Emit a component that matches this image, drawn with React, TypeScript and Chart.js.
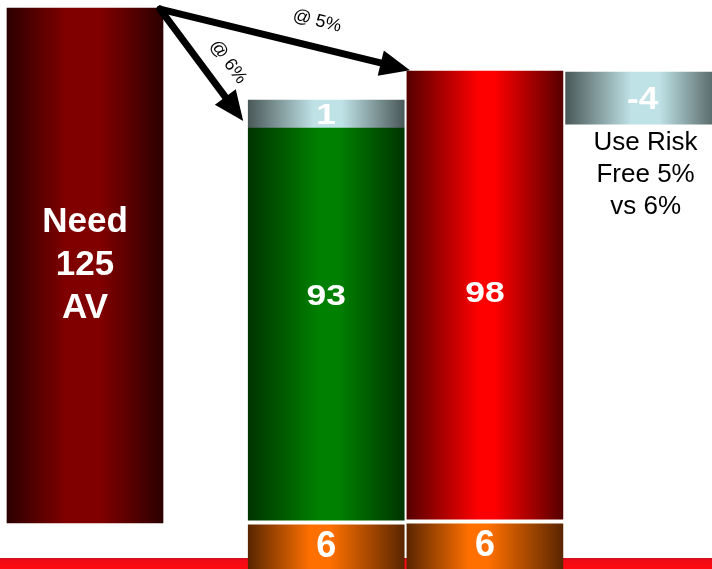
import React, { useEffect, useRef } from "react";
import { Chart, registerables } from "chart.js";

Chart.register(...registerables);

// ---- data (picture units on a 0..120 value axis) ----
const categories = ["Need AV", "@ 6%", "@ 5%", "Difference"];
const columnPos = [0, 1.52, 2.52, 3.52];
const needRange: [number, number] = [9.7, 118.3];
const greenRange: [number, number] = [10.3, 93.0];
const grayRange: [number, number] = [93.0, 98.9];
const redRange: [number, number] = [10.5, 105.0];
const orangeRanges: [number, number][] = [
  [0, 9.3],
  [0, 9.5],
];
const diffRange: [number, number] = [93.8, 104.8];

const needLabel = ["Need", "125", "AV"];
const greenValue = "93";
const grayValue = "1";
const redValue = "98";
const orangeValues = ["6", "6"];
const diffValue = "-4";
const noteLines = ["Use Risk", "Free 5%", "vs 6%"];
const arrowLabels = ["@ 6%", "@ 5%"];

// ---- style ----
const BAR_W = 156;
const FONT = '"Liberation Sans", Arial, sans-serif';

function grad(edge: string, mid: string, a = 0.44, b = 0.56) {
  return (c: any) => {
    const chart = c.chart;
    const xs = chart.scales && chart.scales.x;
    if (!xs || !c.raw || !chart.chartArea) return mid;
    const cx = xs.getPixelForValue(c.raw.x);
    const g = chart.ctx.createLinearGradient(cx - BAR_W / 2, 0, cx + BAR_W / 2, 0);
    g.addColorStop(0, edge);
    g.addColorStop(a, mid);
    g.addColorStop(b, mid);
    g.addColorStop(1, edge);
    return g;
  };
}

function drawText(ctx: CanvasRenderingContext2D, text: string, x: number, y: number, font: string, color: string, sx = 1) {
  ctx.save();
  ctx.translate(x, y);
  ctx.scale(sx, 1);
  ctx.font = font;
  ctx.fillStyle = color;
  ctx.textAlign = "center";
  ctx.textBaseline = "middle";
  ctx.fillText(text, 0, 0);
  ctx.restore();
}

function arrow(ctx: CanvasRenderingContext2D, x1: number, y1: number, x2: number, y2: number) {
  const ang = Math.atan2(y2 - y1, x2 - x1);
  const headLen = 30;
  const headHalf = 13;
  const bx = x2 - headLen * Math.cos(ang);
  const by = y2 - headLen * Math.sin(ang);
  ctx.save();
  ctx.strokeStyle = "#000";
  ctx.fillStyle = "#000";
  ctx.lineWidth = 7;
  ctx.lineCap = "round";
  ctx.beginPath();
  ctx.moveTo(x1, y1);
  ctx.lineTo(bx + 3 * Math.cos(ang), by + 3 * Math.sin(ang));
  ctx.stroke();
  ctx.beginPath();
  ctx.moveTo(x2, y2);
  ctx.lineTo(bx - headHalf * Math.sin(ang), by + headHalf * Math.cos(ang));
  ctx.lineTo(bx + headHalf * Math.sin(ang), by - headHalf * Math.cos(ang));
  ctx.closePath();
  ctx.fill();
  ctx.restore();
}

function rotatedText(ctx: CanvasRenderingContext2D, text: string, x: number, y: number, ang: number) {
  ctx.save();
  ctx.translate(x, y);
  ctx.rotate(ang);
  ctx.font = `18px ${FONT}`;
  ctx.fillStyle = "#000";
  ctx.textAlign = "center";
  ctx.textBaseline = "middle";
  ctx.fillText(text, 0, 0);
  ctx.restore();
}

const decor = {
  id: "decor",
  beforeDatasetsDraw(chart: any) {
    const { ctx, chartArea } = chart;
    ctx.save();
    const g = ctx.createLinearGradient(0, chartArea.bottom - 11, 0, chartArea.bottom);
    g.addColorStop(0, "#c8101c");
    g.addColorStop(0.25, "#f20a14");
    g.addColorStop(1, "#ff0a10");
    ctx.fillStyle = g;
    ctx.fillRect(chartArea.left, chartArea.bottom - 11, chartArea.right - chartArea.left, 11);
    ctx.restore();
  },
  afterDatasetsDraw(chart: any) {
    const ctx: CanvasRenderingContext2D = chart.ctx;
    const el = (d: number, i = 0) => chart.getDatasetMeta(d).data[i];
    const mid = (e: any) => (e.y + e.base) / 2;
    const bold = (s: number) => `bold ${s}px ${FONT}`;

    // Need 125 AV
    const n = el(0);
    const nm = mid(n);
    needLabel.forEach((t, i) => drawText(ctx, t, n.x, nm + (i - 1) * 43, bold(35), "#fff"));

    // green / gray / red / orange / diff
    const gEl = el(1);
    drawText(ctx, greenValue, gEl.x, mid(gEl) - 27, bold(30), "#fff", 1.18);
    const gr = el(2);
    drawText(ctx, grayValue, gr.x, mid(gr) + 2, bold(30), "#fff", 1.18);
    const r = el(3);
    drawText(ctx, redValue, r.x, mid(r) - 1, bold(30), "#fff", 1.18);
    orangeValues.forEach((v, i) => {
      const o = el(4, i);
      drawText(ctx, v, o.x, Math.min(mid(o), 549), bold(36), "#fff", 1.0);
    });
    const d = el(5);
    drawText(ctx, diffValue, d.x - 1, mid(d) + 2, bold(32), "#fff", 1.1);
    noteLines.forEach((t, i) => {
      drawText(ctx, t, d.x + 2, d.base + 19 + i * 32, `26px ${FONT}`, "#000");
    });

    // arrows
    const sx = n.x + BAR_W / 2 - 3;
    const sy = n.y + 1;
    arrow(ctx, sx, sy, gr.x - BAR_W / 2 - 5, gr.y + 21);
    arrow(ctx, sx, sy, r.x - BAR_W / 2 + 3, r.y - 1);
    const a6 = Math.atan2(gr.y + 21 - sy, gr.x - BAR_W / 2 - 5 - sx);
    const a5 = Math.atan2(r.y - 1 - sy, r.x - BAR_W / 2 + 3 - sx);
    rotatedText(ctx, arrowLabels[0], 228, 62, a6);
    rotatedText(ctx, arrowLabels[1], 317, 21, a5);
  },
};

export default function App() {
  const ref = useRef<HTMLCanvasElement | null>(null);
  useEffect(() => {
    if (!ref.current) return;
    const base = { grouped: false, barThickness: BAR_W, borderWidth: 0 };
    const chart = new Chart(ref.current, {
      type: "bar",
      data: {
        datasets: [
          { ...base, label: categories[0], data: [{ x: columnPos[0], y: needRange }], backgroundColor: grad("#2c0000", "#800000", 0.38, 0.6) },
          { ...base, label: "Value @ 6%", data: [{ x: columnPos[1], y: greenRange }], backgroundColor: grad("#003400", "#008000", 0.45, 0.58) },
          { ...base, label: "Adjust @ 6%", data: [{ x: columnPos[1], y: grayRange }], backgroundColor: grad("#4a5858", "#bfe2e6", 0.42, 0.6) },
          { ...base, label: "Value @ 5%", data: [{ x: columnPos[2], y: redRange }], backgroundColor: grad("#560000", "#ff0000", 0.46, 0.56) },
          {
            ...base,
            label: "Cost",
            data: orangeRanges.map((rg, i) => ({ x: columnPos[i + 1], y: rg })),
            backgroundColor: grad("#5a2600", "#ff7000", 0.4, 0.52),
          },
          { ...base, label: categories[3], data: [{ x: columnPos[3], y: diffRange }], backgroundColor: grad("#4a5858", "#bfe2e6", 0.42, 0.6) },
        ] as any,
      },
      options: {
        animation: false,
        responsive: false,
        devicePixelRatio: 1,
        layout: { padding: 0 },
        plugins: { legend: { display: false }, tooltip: { enabled: false } },
        scales: {
          x: { type: "linear", display: false, offset: false, min: -0.5356, max: 3.951 },
          y: { type: "linear", display: false, min: 0, max: 120 },
        },
      } as any,
      plugins: [decor],
    });
    return () => chart.destroy();
  }, []);
  return (
    <div style={{ position: "fixed", left: 0, top: 0, width: 712, height: 569, background: "#fff" }}>
      <canvas ref={ref} width={712} height={569} style={{ display: "block", width: 712, height: 569 }} />
    </div>
  );
}
